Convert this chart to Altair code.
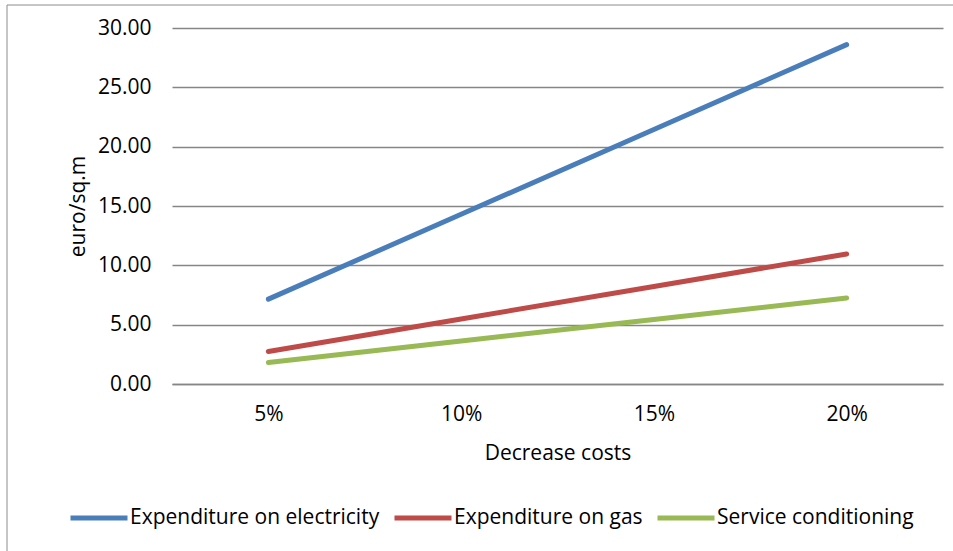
import altair as alt
import pandas as pd

categories = ["5%", "10%", "15%", "20%"]
electricity = [7.15, 14.30, 21.45, 28.60]
gas = [2.74, 5.48, 8.22, 10.96]
conditioning = [1.82, 3.63, 5.44, 7.24]
series_names = ["Expenditure on electricity", "Expenditure on gas", "Service conditioning"]
series_colors = ["#4A7EBB", "#BE4B48", "#98B954"]
y_ticks = [0, 5, 10, 15, 20, 25, 30]

rows = []
for name, vals in zip(series_names, [electricity, gas, conditioning]):
    for c, v in zip(categories, vals):
        rows.append({"cat": c, "value": v, "series": name})
df = pd.DataFrame(rows)

FONT = "Open Sans"

frame = alt.Chart(pd.DataFrame({"a": [0]})).mark_rect(
    fill=None, stroke="#8C8C8C", strokeWidth=1
).encode(
    x=alt.value(-165), x2=alt.value(900), y=alt.value(-23), y2=alt.value(600)
)

lines = alt.Chart(df).mark_line(strokeWidth=5, strokeCap="round").encode(
    x=alt.X("cat:O", sort=categories,
            scale=alt.Scale(type="point", padding=0.5),
            axis=alt.Axis(title="Decrease costs", labelAngle=0, ticks=False,
                          domainColor="#868686", domainWidth=1.5,
                          labelPadding=19, titlePadding=18)),
    y=alt.Y("value:Q", scale=alt.Scale(domain=[0, 30], nice=False),
            axis=alt.Axis(title="euro/sq.m", values=y_ticks, format=".2f",
                          ticks=False, domain=False, grid=True,
                          gridColor="#868686", gridWidth=1.5,
                          labelPadding=21, titlePadding=9)),
    color=alt.Color("series:N", sort=series_names,
                    scale=alt.Scale(domain=series_names, range=series_colors),
                    legend=alt.Legend(title=None, orient="none", direction="horizontal",
                                      columns=3, legendX=-104, legendY=459,
                                      symbolType="stroke", symbolSize=3249,
                                      symbolStrokeWidth=5, labelOffset=0,
                                      columnPadding=4)),
)

chart = alt.layer(frame, lines).properties(
    width=771, height=356,
    autosize=alt.AutoSizeParams(type="none"),
    padding={"left": 172, "top": 28, "right": 10, "bottom": 167},
).configure_view(stroke=None).configure_axis(
    labelFont=FONT, titleFont=FONT, labelFontSize=21, titleFontSize=21,
    labelColor="#000000", titleColor="#000000", titleFontWeight="normal"
).configure_legend(
    labelFont=FONT, labelFontSize=21, labelColor="#000000", labelLimit=400
)

chart.save("out.html", embed_options={"renderer": "svg", "actions": False})
